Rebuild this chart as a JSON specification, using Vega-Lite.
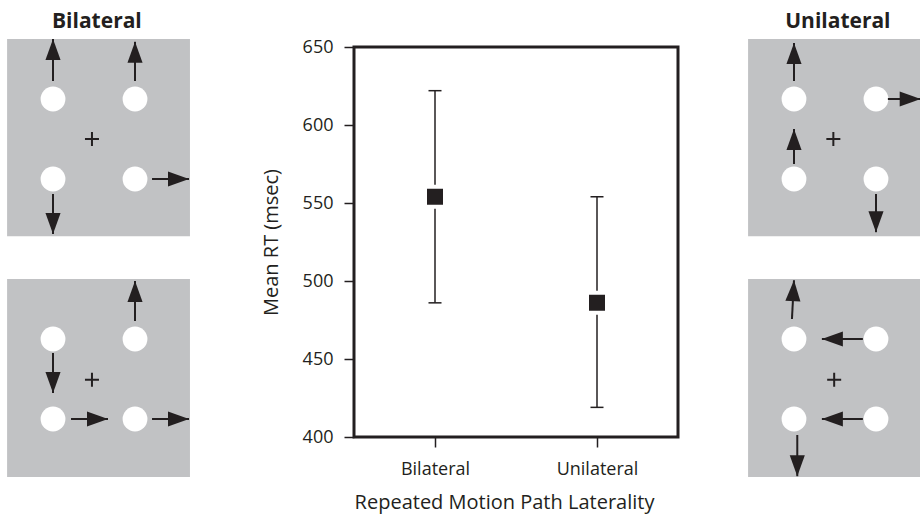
{
  "$schema": "https://vega.github.io/schema/vega-lite/v6.json",
  "background": "white",
  "padding": {"left": 0, "top": 10, "right": 0, "bottom": 0},
  "spacing": 68,
  "config": {
    "font": "Open Sans",
    "view": {"stroke": null}
  },
  "datasets": {
    "rt": [
      {"cond": "Bilateral", "mean": 554, "lo": 486, "hi": 622},
      {"cond": "Unilateral", "mean": 486, "lo": 419, "hi": 554}
    ],
    "squaresL": [
      {"x1": -2.12, "x2": 2.34, "y1": -2.43, "y2": 2.5},
      {"x1": -2.12, "x2": 2.34, "y1": -8.45, "y2": -3.5}
    ],
    "squaresR": [
      {"x1": -2.12, "x2": 2.098, "y1": -2.43, "y2": 2.5},
      {"x1": -2.12, "x2": 2.098, "y1": -8.45, "y2": -3.5}
    ],
    "circles": [
      {"x": -1, "y": 1}, {"x": 1, "y": 1}, {"x": -1, "y": -1}, {"x": 1, "y": -1},
      {"x": -1, "y": -5}, {"x": 1, "y": -5}, {"x": -1, "y": -7}, {"x": 1, "y": -7}
    ],
    "fixL": [{"x": -0.05, "y": 0}, {"x": -0.05, "y": -6.02}],
    "fixR": [{"x": -0.04, "y": 0}, {"x": -0.02, "y": -6.02}],
    "arrowsL": [
      {"x": -1, "y": 1.45, "xt": -1, "yt": 2.5, "dir": 0},
      {"x": 1, "y": 1.45, "xt": 1, "yt": 2.43, "dir": 0},
      {"x": -1, "y": -1.375, "xt": -1, "yt": -2.375, "dir": 180},
      {"x": 1.415, "y": -1, "xt": 2.317, "yt": -1, "dir": 90},
      {"x": 1, "y": -4.55, "xt": 1, "yt": -3.55, "dir": 0},
      {"x": -1, "y": -5.35, "xt": -1, "yt": -6.35, "dir": 180},
      {"x": -0.561, "y": -7, "xt": 0.341, "yt": -7, "dir": 90},
      {"x": 1.415, "y": -7, "xt": 2.317, "yt": -7, "dir": 90}
    ],
    "arrowsR": [
      {"x": -1, "y": 1.45, "xt": -1, "yt": 2.4, "dir": 0},
      {"x": -1, "y": -0.625, "xt": -1, "yt": 0.25, "dir": 0},
      {"x": 1.29, "y": 1, "xt": 2.09, "yt": 1, "dir": 90},
      {"x": 1, "y": -1.375, "xt": 1, "yt": -2.33, "dir": 180},
      {"x": -1.05, "y": -4.5, "xt": -1, "yt": -3.53, "dir": 3},
      {"x": 0.68, "y": -5, "xt": -0.32, "yt": -5, "dir": 270},
      {"x": 0.68, "y": -7, "xt": -0.32, "yt": -7, "dir": 270},
      {"x": -0.92, "y": -7.4, "xt": -0.92, "yt": -8.43, "dir": 180}
    ],
    "titleL": [{"t": "Bilateral", "x": 0.07, "y": 2.775}],
    "titleR": [{"t": "Unilateral", "x": 0.07, "y": 2.775}]
  },
  "hconcat": [
    {
      "width": 190,
      "height": 390,
      "view": {"stroke": null},
      "layer": [
        {
          "data": {"name": "squaresL"},
          "mark": {"type": "rect", "color": "#c1c2c4"},
          "encoding": {
            "x": {"field": "x1", "type": "quantitative", "scale": {"domain": [-2.293, 2.341], "nice": false, "zero": false}, "axis": null},
            "x2": {"field": "x2"},
            "y": {"field": "y1", "type": "quantitative", "scale": {"domain": [-7.45, 2.3], "nice": false, "zero": false}, "axis": null},
            "y2": {"field": "y2"}
          }
        },
        {
          "data": {"name": "circles"},
          "mark": {"type": "point", "shape": "circle", "filled": true, "color": "white", "opacity": 1, "size": 615},
          "encoding": {
            "x": {"field": "x", "type": "quantitative", "scale": {"domain": [-2.293, 2.341], "nice": false, "zero": false}, "axis": null},
            "y": {"field": "y", "type": "quantitative", "scale": {"domain": [-7.45, 2.3], "nice": false, "zero": false}, "axis": null}
          }
        },
        {
          "data": {"name": "fixL"},
          "mark": {"type": "point", "shape": "M-1,0L1,0M0,-1L0,1", "filled": false, "stroke": "#231f20", "strokeWidth": 2, "opacity": 1, "size": 196},
          "encoding": {
            "x": {"field": "x", "type": "quantitative", "scale": {"domain": [-2.293, 2.341], "nice": false, "zero": false}, "axis": null},
            "y": {"field": "y", "type": "quantitative", "scale": {"domain": [-7.45, 2.3], "nice": false, "zero": false}, "axis": null}
          }
        },
        {
          "data": {"name": "arrowsL"},
          "mark": {"type": "rule", "color": "#231f20", "strokeWidth": 2},
          "encoding": {
            "x": {"field": "x", "type": "quantitative", "scale": {"domain": [-2.293, 2.341], "nice": false, "zero": false}, "axis": null},
            "y": {"field": "y", "type": "quantitative", "scale": {"domain": [-7.45, 2.3], "nice": false, "zero": false}, "axis": null},
            "x2": {"field": "xt"},
            "y2": {"field": "yt"}
          }
        },
        {
          "data": {"name": "arrowsL"},
          "mark": {"type": "point", "shape": "M0,0L0.36,1L-0.36,1Z", "filled": true, "color": "#231f20", "opacity": 1, "size": 1764},
          "encoding": {
            "x": {"field": "xt", "type": "quantitative", "scale": {"domain": [-2.293, 2.341], "nice": false, "zero": false}, "axis": null},
            "y": {"field": "yt", "type": "quantitative", "scale": {"domain": [-7.45, 2.3], "nice": false, "zero": false}, "axis": null},
            "angle": {"field": "dir", "type": "quantitative", "scale": {"domain": [0, 360], "range": [0, 360]}}
          }
        },
        {
          "data": {"name": "titleL"},
          "mark": {"type": "text", "font": "Open Sans", "fontWeight": "bold", "fontSize": 21, "align": "center", "baseline": "alphabetic", "color": "#231f20"},
          "encoding": {
            "x": {"field": "x", "type": "quantitative", "scale": {"domain": [-2.293, 2.341], "nice": false, "zero": false}, "axis": null},
            "y": {"field": "y", "type": "quantitative", "scale": {"domain": [-7.45, 2.3], "nice": false, "zero": false}, "axis": null},
            "text": {"field": "t"}
          }
        }
      ]
    },
    {
      "width": 324,
      "height": 390,
      "view": {"stroke": "#231f20", "strokeWidth": 3},
      "data": {"name": "rt"},
      "encoding": {
        "x": {
          "field": "cond", "type": "nominal",
          "scale": {"type": "point", "padding": 0.5},
          "axis": {"title": "Repeated Motion Path Laterality", "labelAngle": 0, "domain": false, "grid": false, "tickSize": 10, "tickWidth": 1.5, "tickColor": "#231f20", "labelColor": "#231f20", "labelFont": "Open Sans", "labelFontSize": 18, "labelPadding": 13, "titleFont": "Open Sans", "titleFontSize": 20, "titleFontWeight": "normal", "titleColor": "#231f20", "titlePadding": 14, "titleX": 150}
        }
      },
      "layer": [
        {
          "mark": {"type": "rule", "color": "#231f20", "strokeWidth": 1.5},
          "encoding": {
            "y": {
              "field": "lo", "type": "quantitative",
              "scale": {"domain": [400, 650], "nice": false, "zero": false},
              "axis": {"title": "Mean RT (msec)", "values": [400, 450, 500, 550, 600, 650], "domain": false, "grid": false, "tickSize": 10, "tickWidth": 1.5, "tickColor": "#231f20", "labelColor": "#231f20", "labelFont": "Open Sans", "labelFontSize": 18, "labelPadding": 11, "titleFont": "Open Sans", "titleFontSize": 20, "titleFontWeight": "normal", "titleColor": "#231f20", "titlePadding": 21}
            },
            "y2": {"field": "hi"}
          }
        },
        {
          "mark": {"type": "tick", "color": "#231f20", "thickness": 1.5, "size": 13, "opacity": 1},
          "encoding": {
            "y": {"field": "lo", "type": "quantitative", "scale": {"domain": [400, 650], "nice": false, "zero": false}}
          }
        },
        {
          "mark": {"type": "tick", "color": "#231f20", "thickness": 1.5, "size": 13, "opacity": 1},
          "encoding": {
            "y": {"field": "hi", "type": "quantitative", "scale": {"domain": [400, 650], "nice": false, "zero": false}}
          }
        },
        {
          "mark": {"type": "point", "shape": "square", "filled": true, "fill": "#231f20", "stroke": "white", "strokeWidth": 4, "size": 400, "opacity": 1},
          "encoding": {
            "y": {"field": "mean", "type": "quantitative", "scale": {"domain": [400, 650], "nice": false, "zero": false}}
          }
        }
      ]
    },
    {
      "width": 173,
      "height": 390,
      "view": {"stroke": null},
      "layer": [
        {
          "data": {"name": "squaresR"},
          "mark": {"type": "rect", "color": "#c1c2c4"},
          "encoding": {
            "x": {"field": "x1", "type": "quantitative", "scale": {"domain": [-2.122, 2.098], "nice": false, "zero": false}, "axis": null},
            "x2": {"field": "x2"},
            "y": {"field": "y1", "type": "quantitative", "scale": {"domain": [-7.45, 2.3], "nice": false, "zero": false}, "axis": null},
            "y2": {"field": "y2"}
          }
        },
        {
          "data": {"name": "circles"},
          "mark": {"type": "point", "shape": "circle", "filled": true, "color": "white", "opacity": 1, "size": 615},
          "encoding": {
            "x": {"field": "x", "type": "quantitative", "scale": {"domain": [-2.122, 2.098], "nice": false, "zero": false}, "axis": null},
            "y": {"field": "y", "type": "quantitative", "scale": {"domain": [-7.45, 2.3], "nice": false, "zero": false}, "axis": null}
          }
        },
        {
          "data": {"name": "fixR"},
          "mark": {"type": "point", "shape": "M-1,0L1,0M0,-1L0,1", "filled": false, "stroke": "#231f20", "strokeWidth": 2, "opacity": 1, "size": 196},
          "encoding": {
            "x": {"field": "x", "type": "quantitative", "scale": {"domain": [-2.122, 2.098], "nice": false, "zero": false}, "axis": null},
            "y": {"field": "y", "type": "quantitative", "scale": {"domain": [-7.45, 2.3], "nice": false, "zero": false}, "axis": null}
          }
        },
        {
          "data": {"name": "arrowsR"},
          "mark": {"type": "rule", "color": "#231f20", "strokeWidth": 2},
          "encoding": {
            "x": {"field": "x", "type": "quantitative", "scale": {"domain": [-2.122, 2.098], "nice": false, "zero": false}, "axis": null},
            "y": {"field": "y", "type": "quantitative", "scale": {"domain": [-7.45, 2.3], "nice": false, "zero": false}, "axis": null},
            "x2": {"field": "xt"},
            "y2": {"field": "yt"}
          }
        },
        {
          "data": {"name": "arrowsR"},
          "mark": {"type": "point", "shape": "M0,0L0.36,1L-0.36,1Z", "filled": true, "color": "#231f20", "opacity": 1, "size": 1764},
          "encoding": {
            "x": {"field": "xt", "type": "quantitative", "scale": {"domain": [-2.122, 2.098], "nice": false, "zero": false}, "axis": null},
            "y": {"field": "yt", "type": "quantitative", "scale": {"domain": [-7.45, 2.3], "nice": false, "zero": false}, "axis": null},
            "angle": {"field": "dir", "type": "quantitative", "scale": {"domain": [0, 360], "range": [0, 360]}}
          }
        },
        {
          "data": {"name": "titleR"},
          "mark": {"type": "text", "font": "Open Sans", "fontWeight": "bold", "fontSize": 21, "align": "center", "baseline": "alphabetic", "color": "#231f20"},
          "encoding": {
            "x": {"field": "x", "type": "quantitative", "scale": {"domain": [-2.122, 2.098], "nice": false, "zero": false}, "axis": null},
            "y": {"field": "y", "type": "quantitative", "scale": {"domain": [-7.45, 2.3], "nice": false, "zero": false}, "axis": null},
            "text": {"field": "t"}
          }
        }
      ]
    }
  ]
}
